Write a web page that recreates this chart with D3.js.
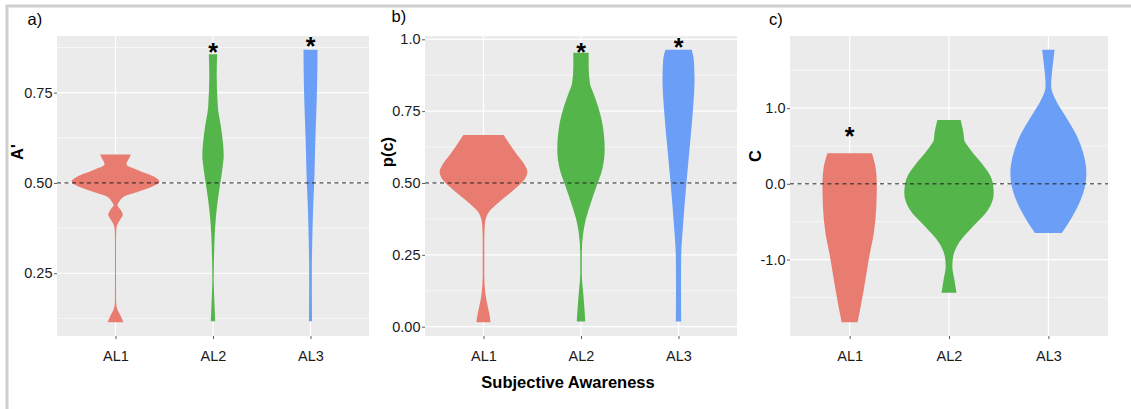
<!DOCTYPE html>
<html>
<head>
<meta charset="utf-8">
<script src="https://cdn.jsdelivr.net/npm/d3@7"></script>
<style>
  body { margin: 0; background: #fff; }
  svg { display: block; font-family: "Liberation Sans", Arial, Helvetica, sans-serif; }
</style>
</head>
<body>
<svg id="chart" width="1131" height="409"></svg>
<script>
const categories = ["AL1", "AL2", "AL3"];

// violin profiles: [value, relative density]
// a) A'
const aPrimeAL1 = [[0.114, 0.18], [0.135, 0.105], [0.149, 0.045], [0.17, 0.014], [0.25, 0.012], [0.33, 0.012],
  [0.370, 0.018], [0.384, 0.04], [0.398, 0.105], [0.412, 0.165], [0.425, 0.12], [0.439, 0.045], [0.448, 0.085],
  [0.462, 0.19], [0.476, 0.53], [0.490, 0.84], [0.504, 1.0], [0.518, 0.87], [0.536, 0.50], [0.552, 0.25],
  [0.568, 0.31], [0.579, 0.35]];
const aPrimeAL2 = [[0.117, 0.05], [0.177, 0.03], [0.232, 0.016], [0.296, 0.023], [0.361, 0.041], [0.407, 0.068],
  [0.453, 0.11], [0.499, 0.166], [0.536, 0.21], [0.577, 0.244], [0.619, 0.22], [0.656, 0.18], [0.711, 0.11],
  [0.803, 0.084], [0.856, 0.096]];
const aPrimeAL3 = [[0.117, 0.034], [0.25, 0.03], [0.343, 0.041], [0.435, 0.061], [0.5, 0.084], [0.527, 0.091],
  [0.619, 0.11], [0.711, 0.137], [0.803, 0.155], [0.869, 0.16]];

// b) p(c)
const pcAL1 = [[0.015, 0.16], [0.042, 0.137], [0.071, 0.096], [0.111, 0.046], [0.181, 0.018], [0.296, 0.018],
  [0.354, 0.03], [0.377, 0.057], [0.400, 0.125], [0.424, 0.285], [0.452, 0.50], [0.487, 0.77], [0.516, 0.95],
  [0.539, 1.0], [0.5625, 0.94], [0.597, 0.77], [0.632, 0.61], [0.667, 0.46]];
const pcAL2 = [[0.018, 0.096], [0.059, 0.08], [0.117, 0.05], [0.186, 0.018], [0.256, 0.018], [0.325, 0.05],
  [0.372, 0.107], [0.429, 0.22], [0.487, 0.35], [0.545, 0.48], [0.615, 0.54], [0.695, 0.50], [0.765, 0.39],
  [0.811, 0.285], [0.846, 0.205], [0.904, 0.175], [0.953, 0.175]];
const pcAL3 = [[0.018, 0.061], [0.128, 0.057], [0.244, 0.061], [0.360, 0.107], [0.499, 0.18], [0.649, 0.27],
  [0.765, 0.335], [0.858, 0.365], [0.927, 0.35], [0.964, 0.30]];

// c) C
const cAL1 = [[-1.829, 0.179], [-1.395, 0.317], [-0.956, 0.44], [-0.649, 0.541], [-0.298, 0.597], [0.009, 0.608],
  [0.228, 0.577], [0.404, 0.497]];
const cAL2 = [[-1.439, 0.168], [-1.263, 0.12], [-1.088, 0.074], [-0.956, 0.094], [-0.781, 0.22], [-0.561, 0.54],
  [-0.342, 0.875], [-0.123, 1.0], [0.053, 0.96], [0.272, 0.73], [0.404, 0.54], [0.491, 0.43], [0.579, 0.34],
  [0.667, 0.325], [0.842, 0.26]];
const cAL3 = [[-0.649, 0.30], [-0.342, 0.62], [-0.079, 0.80], [0.14, 0.85], [0.36, 0.80], [0.623, 0.645],
  [0.886, 0.39], [1.105, 0.168], [1.25, 0.07], [1.30, 0.062], [1.543, 0.094], [1.772, 0.139]];

// significance stars (category, value)
const starsA = [["AL2", 0.879], ["AL3", 0.893]];
const starsB = [["AL2", 0.975], ["AL3", 0.993]];
const starsC = [["AL1", 0.71]];

// axis ticks
const ticksA = [0.25, 0.5, 0.75];
const tickLabelsA = ["0.25", "0.50", "0.75"];
const minorA = [0.125, 0.375, 0.625, 0.875];
const ticksB = [0, 0.25, 0.5, 0.75, 1];
const tickLabelsB = ["0.00", "0.25", "0.50", "0.75", "1.0"];
const minorB = [0.125, 0.375, 0.625, 0.875];
const ticksC = [-1, 0, 1];
const tickLabelsC = ["-1.0", "0.0", "1.0"];
const minorC = [-1.5, -0.5, 0.5, 1.5];

const colors = ["#E97C70", "#54B54B", "#6B9EF7"];

const svg = d3.select("#chart");

// outer frame (top and left edges only)
svg.append("path")
  .attr("d", "M7,409 L7,6 L1131,6")
  .attr("fill", "none")
  .attr("stroke", "#cfcfcf")
  .attr("stroke-width", 3);

function drawPanel(cfg) {
  const all = cfg.series.flat();
  const ext = d3.extent(all, d => d[0]);
  const pad = (ext[1] - ext[0]) * 0.05;

  const y = d3.scaleLinear().domain([ext[0] - pad, ext[1] + pad]).range([cfg.bottom, cfg.top]);
  const x = d3.scalePoint().domain(categories).range([cfg.left, cfg.right]).padding(0.6);
  const w = d3.scaleLinear().domain([0, 1]).range([0, x.step() * 0.45]);

  const g = svg.append("g");

  g.append("rect")
    .attr("x", cfg.left).attr("y", cfg.top)
    .attr("width", cfg.right - cfg.left).attr("height", cfg.bottom - cfg.top)
    .attr("fill", "#EBEBEB");

  // grid
  g.selectAll(".minor").data(cfg.minor).join("line")
    .attr("x1", cfg.left).attr("x2", cfg.right)
    .attr("y1", d => y(d)).attr("y2", d => y(d))
    .attr("stroke", "#fff").attr("stroke-width", 0.6);
  g.selectAll(".major").data(cfg.ticks).join("line")
    .attr("x1", cfg.left).attr("x2", cfg.right)
    .attr("y1", d => y(d)).attr("y2", d => y(d))
    .attr("stroke", "#fff").attr("stroke-width", 1.2);
  g.selectAll(".vgrid").data(categories).join("line")
    .attr("x1", d => x(d)).attr("x2", d => x(d))
    .attr("y1", cfg.top).attr("y2", cfg.bottom)
    .attr("stroke", "#fff").attr("stroke-width", 1.2);

  // violins
  cfg.series.forEach((prof, i) => {
    const cx = x(categories[i]);
    const area = d3.area()
      .y(d => y(d[0]))
      .x0(d => cx - w(d[1]))
      .x1(d => cx + w(d[1]))
      .curve(d3.curveMonotoneY);
    g.append("path")
      .attr("d", area(prof))
      .attr("fill", colors[i]);
  });

  // reference line
  g.append("line")
    .attr("x1", cfg.left).attr("x2", cfg.right)
    .attr("y1", y(cfg.ref)).attr("y2", y(cfg.ref))
    .attr("stroke", "#222").attr("stroke-width", 1)
    .attr("stroke-dasharray", "4,3.5");

  // stars
  const fs = 25;
  g.selectAll(".star").data(cfg.stars).join("text")
    .attr("x", d => x(d[0]))
    .attr("y", d => y(d[1]) + fs * 0.58)
    .attr("text-anchor", "middle")
    .attr("font-size", fs)
    .attr("font-weight", "bold")
    .attr("fill", "#000")
    .text("*");

  // axes
  const yAxis = d3.axisLeft(y).tickValues(cfg.ticks)
    .tickFormat((d, i) => cfg.tickLabels[i])
    .tickSize(3).tickPadding(1.5);
  const ya = g.append("g").attr("transform", `translate(${cfg.left},0)`).call(yAxis);
  const xAxis = d3.axisBottom(x).tickSize(3).tickPadding(12);
  const xa = g.append("g").attr("transform", `translate(0,${cfg.bottom})`).call(xAxis);
  [ya, xa].forEach(a => {
    a.select(".domain").remove();
    a.selectAll(".tick line").attr("stroke", "#333").attr("stroke-width", 0.8);
    a.selectAll(".tick text")
      .attr("font-size", 14.5)
      .attr("font-family", "'Liberation Sans', Arial, Helvetica, sans-serif")
      .attr("fill", "#1a1a1a");
  });

  // y title
  g.append("text")
    .attr("transform", `translate(${cfg.titleX},${cfg.titleY}) rotate(-90)`)
    .attr("text-anchor", "middle")
    .attr("dy", "0.35em")
    .attr("font-size", 16.5)
    .attr("font-weight", "bold")
    .text(cfg.title);

  // panel tag
  g.append("text")
    .attr("x", cfg.tagX).attr("y", cfg.tagY)
    .attr("font-size", 16.5)
    .text(cfg.tag);
}

drawPanel({
  left: 57, right: 369, top: 36, bottom: 336,
  series: [aPrimeAL1, aPrimeAL2, aPrimeAL3],
  ticks: ticksA, tickLabels: tickLabelsA, minor: minorA, ref: 0.5, stars: starsA,
  title: "A'", titleX: 17.5, titleY: 152, tag: "a)", tagX: 27.5, tagY: 25
});

drawPanel({
  left: 425, right: 737, top: 36, bottom: 336,
  series: [pcAL1, pcAL2, pcAL3],
  ticks: ticksB, tickLabels: tickLabelsB, minor: minorB, ref: 0.5, stars: starsB,
  title: "p(c)", titleX: 387.5, titleY: 152, tag: "b)", tagX: 391.5, tagY: 22
});

drawPanel({
  left: 790, right: 1108, top: 36, bottom: 336,
  series: [cAL1, cAL2, cAL3],
  ticks: ticksC, tickLabels: tickLabelsC, minor: minorC, ref: 0, stars: starsC,
  title: "C", titleX: 755, titleY: 156, tag: "c)", tagX: 769, tagY: 25
});

// shared x title
svg.append("text")
  .attr("x", 568).attr("y", 388)
  .attr("text-anchor", "middle")
  .attr("font-size", 16.5)
  .attr("font-weight", "bold")
  .text("Subjective Awareness");
</script>
</body>
</html>
